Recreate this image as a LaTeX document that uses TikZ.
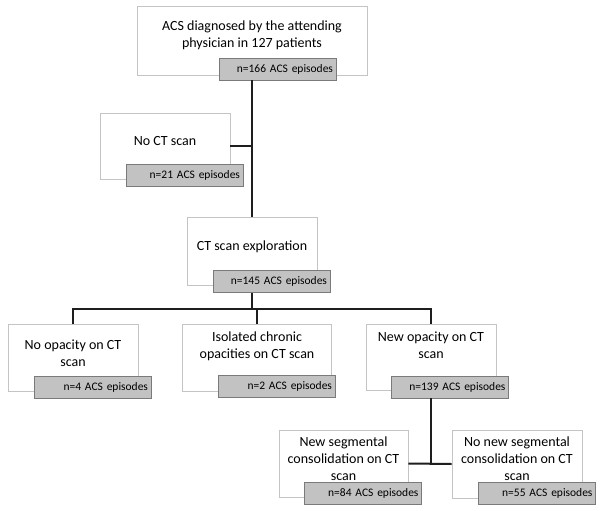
\documentclass[tikz,border=0pt]{standalone}
\usepackage{fontspec}
\setmainfont{Carlito}
\usepackage{tikz}
\usetikzlibrary{positioning}

\definecolor{boxline}{HTML}{C4C4C4}
\definecolor{cntfill}{HTML}{C2C2C2}
\definecolor{cntline}{HTML}{7A7A7A}
\definecolor{linecol}{HTML}{1E1E1E}

\begin{document}
\begin{tikzpicture}[x=1pt, y=-1pt,
    box/.style={draw=boxline, fill=white, line width=0.9pt, inner sep=0pt},
    cnt/.style={draw=cntline, fill=cntfill, line width=0.8pt, inner xsep=3pt, inner ysep=0pt,
        text width=111pt, align=right, minimum height=22pt, font=\fontsize{11.5}{13}\selectfont},
    txt/.style={align=center, inner sep=0pt, font=\fontsize{14}{17}\selectfont},
    link/.style={draw=linecol, line width=2pt}]
    \fill[white] (0,0) rectangle (602,511);
    \useasboundingbox (0,0) rectangle (602,511);

    % Boxes
    \node[box, minimum width=230pt, minimum height=69pt] (diag) at (252,40.5) {};
    \node[box, minimum width=130pt, minimum height=66pt] (noct) at (165,146) {};
    \node[box, minimum width=130pt, minimum height=68pt] (ct) at (252,251) {};
    \node[box, minimum width=130pt, minimum height=67pt] (noop) at (73,357.5) {};
    \node[box, minimum width=149pt, minimum height=67pt] (chron) at (257,357.5) {};
    \node[box, minimum width=130pt, minimum height=66pt] (newop) at (431,357) {};
    \node[box, minimum width=129pt, minimum height=67pt] (seg) at (343.5,463.5) {};
    \node[box, minimum width=130pt, minimum height=68pt] (noseg) at (517,464) {};

    % Texts
    \node[txt] (diagt) at (252,35) {ACS diagnosed by the attending\\physician in 127 patients};
    \node[txt] (noctt) at (165,141) {No CT scan};
    \node[txt] (ctt) at (252,247) {CT scan exploration};
    \node[txt] (noopt) at (73,353.5) {No opacity on CT\\scan};
    \node[txt] (chront) at (257,346) {Isolated chronic\\opacities on CT scan};
    \node[txt] (newopt) at (431,345.5) {New opacity on CT\\scan};
    \node[txt] (segt) at (343.5,458.5) {New segmental\\consolidation on CT\\scan};
    \node[txt] (nosegt) at (517,458.5) {No new segmental\\consolidation on CT\\scan};

    % Counts
    \node[cnt] (diagn) at (277.5,69) {n=166 ACS episodes};
    \node[cnt] (noctn) at (184.5,175.5) {n=21 ACS episodes};
    \node[cnt] (ctn) at (271.5,281.5) {n=145 ACS episodes};
    \node[cnt] (noopn) at (92.5,387) {n=4 ACS episodes};
    \node[cnt] (chronn) at (276.5,386.5) {n=2 ACS episodes};
    \node[cnt] (newopn) at (450,387) {n=139 ACS episodes};
    \node[cnt] (segn) at (363,493.5) {n=84 ACS episodes};
    \node[cnt] (nosegn) at (537,493) {n=55 ACS episodes};

    % Links
    \coordinate (split) at (252,309);
    \draw[link] (diag.south |- diagn.south) -- (ct.north);
    \draw[link] (noct.east) -- (noct.east -| ct.north);
    \draw[link] (ct.south |- ctn.south) -- (split);
    \draw[link] (noop.north) |- (newop.north |- split) -- (newop.north);
    \draw[link] (chron.north) -- (chron.north |- split);
    \draw[link] (newop.south |- newopn.south) -- (newop.south |- seg.east);
    \draw[link] (seg.east) -- (noseg.west);
\end{tikzpicture}
\end{document}
